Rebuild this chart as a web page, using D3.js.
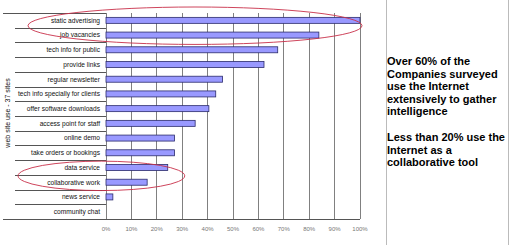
<!DOCTYPE html>
<html>
<head>
<meta charset="utf-8">
<script src="https://cdn.jsdelivr.net/npm/d3@7"></script>
<style>
  body { margin: 0; background: #fff; }
  svg { display: block; font-family: "Liberation Sans", Arial, sans-serif; }
</style>
</head>
<body>
<div id="chart"></div>
<script>
// Data (share of 37 web sites using each feature, %)
const categories = [
  "static advertising", "job vacancies", "tech info for public", "provide links",
  "regular newsletter", "tech info specially for clients", "offer software downloads",
  "access point for staff", "online demo", "take orders or bookings", "data service",
  "collaborative work", "news service", "community chat"
];
const values = [100, 83.8, 67.6, 62.2, 45.9, 43.2, 40.5, 35.1, 27.0, 27.0, 24.3, 16.2, 2.7, 0];
const xTicks = [0, 10, 20, 30, 40, 50, 60, 70, 80, 90, 100];
const yTitle = "web site use - 37 sites";
const noteLines1 = ["Over 60% of the", "Companies surveyed", "use the Internet", "extensively to gather", "intelligence"];
const noteLines2 = ["Less than 20% use the", "Internet as a", "collaborative tool"];

const data = categories.map((c, i) => ({ cat: c, val: values[i] }));

const W = 512, H = 245;
const plot = { left: 106, right: 360, top: 13, bottom: 219 };

const svg = d3.select("#chart").append("svg")
  .attr("width", W).attr("height", H);

const x = d3.scaleLinear().domain([0, 100]).range([plot.left, plot.right]);
const y = d3.scaleBand().domain(categories).range([plot.top, plot.bottom]);

// vertical gridlines
svg.append("g")
  .selectAll("line")
  .data(xTicks)
  .enter().append("line")
  .attr("x1", d => x(d)).attr("x2", d => x(d))
  .attr("y1", plot.top).attr("y2", plot.bottom)
  .attr("stroke", "#808080").attr("stroke-width", 1)
  .attr("shape-rendering", "crispEdges");

// category separators in label area
const bounds = categories.map(c => y(c)).concat([plot.bottom]);
svg.append("g")
  .selectAll("line")
  .data(bounds)
  .enter().append("line")
  .attr("x1", (d, i) => (i === 0 || i === bounds.length - 1) ? 3 : 15)
  .attr("x2", plot.left)
  .attr("y1", d => Math.round(d) + 0.5).attr("y2", d => Math.round(d) + 0.5)
  .attr("stroke", "#555").attr("stroke-width", 1);

// bottom axis line across plot
svg.append("line")
  .attr("x1", plot.left).attr("x2", plot.right)
  .attr("y1", plot.bottom + 0.5).attr("y2", plot.bottom + 0.5)
  .attr("stroke", "#555");

// bars
const barH = 6;
svg.append("g")
  .selectAll("rect")
  .data(data.filter(d => d.val > 0))
  .enter().append("rect")
  .attr("x", x(0))
  .attr("y", d => y(d.cat) + y.bandwidth() / 2 - barH / 2)
  .attr("width", d => x(d.val) - x(0))
  .attr("height", barH)
  .attr("fill", "#9999ff")
  .attr("stroke", "#2b2b6b")
  .attr("stroke-width", 0.8);

// category labels
svg.append("g")
  .selectAll("text")
  .data(categories)
  .enter().append("text")
  .attr("x", plot.left - 6)
  .attr("y", d => y(d) + y.bandwidth() / 2)
  .attr("dy", "0.35em")
  .attr("text-anchor", "end")
  .style("font-size", "6.6px")
  .attr("fill", "#111")
  .text(d => d);

// x tick labels
svg.append("g")
  .selectAll("text")
  .data(xTicks)
  .enter().append("text")
  .attr("x", d => x(d))
  .attr("y", 229)
  .attr("dy", "0.35em")
  .attr("text-anchor", "middle")
  .style("font-size", "6px")
  .attr("fill", "#777")
  .text(d => d + "%");

// y axis title
svg.append("text")
  .attr("transform", "translate(8,113) rotate(-90)")
  .attr("text-anchor", "middle")
  .attr("dy", "0.35em")
  .style("font-size", "7px")
  .attr("fill", "#111")
  .text(yTitle);

// red highlight ellipses
const ell = svg.append("g").attr("fill", "none").attr("stroke", "#c8304a").attr("stroke-width", 0.9);
const y0 = y("static advertising"), y1 = y("job vacancies") + y.bandwidth();
ell.append("ellipse")
  .attr("cx", (28 + x(100) + 2) / 2)
  .attr("cy", (y0 + y1) / 2 - 2)
  .attr("rx", (x(100) + 2 - 28) / 2)
  .attr("ry", (y1 - y0) / 2 + 4);
const y2 = y("data service") + 2, y3 = y("collaborative work") + y.bandwidth();
ell.append("ellipse")
  .attr("cx", (18 + x(31)) / 2)
  .attr("cy", (y2 + y3) / 2)
  .attr("rx", (x(31) - 18) / 2)
  .attr("ry", (y3 - y2) / 2 + 1);

// right panel frame lines
svg.append("line").attr("x1", 386.5).attr("x2", 386.5).attr("y1", 0).attr("y2", H)
  .attr("stroke", "#bbb");
svg.append("line").attr("x1", 508.5).attr("x2", 508.5).attr("y1", 0).attr("y2", H)
  .attr("stroke", "#bbb");

// notes
const notes = svg.append("g")
  .style("font-size", "11px").style("font-weight", "bold").attr("fill", "#000");
noteLines1.forEach((t, i) => {
  notes.append("text").attr("x", 387).attr("y", 65 + i * 12.5).text(t);
});
noteLines2.forEach((t, i) => {
  notes.append("text").attr("x", 387).attr("y", 141 + i * 12.5).text(t);
});
</script>
</body>
</html>
